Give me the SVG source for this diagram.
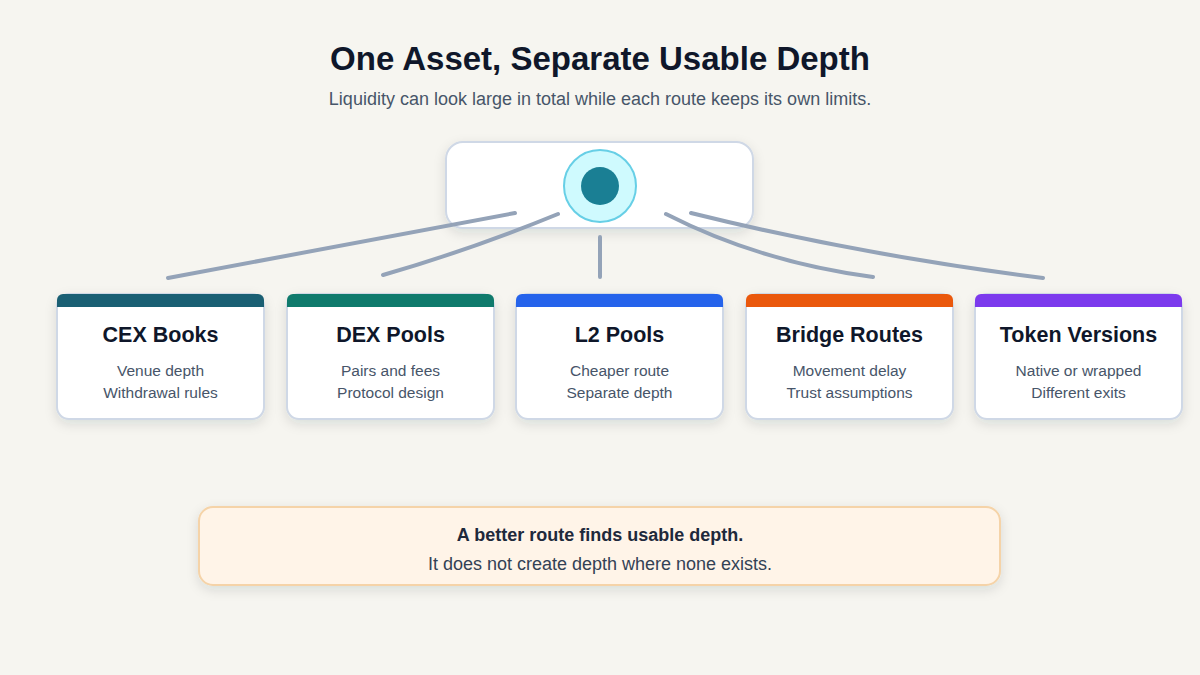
<svg xmlns="http://www.w3.org/2000/svg" width="1200" height="675" viewBox="0 0 1200 675">
<defs>
<filter id="sh" x="-20%" y="-20%" width="140%" height="150%"><feDropShadow dx="0" dy="4" stdDeviation="6" flood-color="#1e293b" flood-opacity="0.12"/></filter>
</defs>
<style>
.t{font-family:"Liberation Sans",Arial,sans-serif}
.card{fill:#fff;stroke:#cfd8e6;stroke-width:2}
.ct{font-size:21.5px;font-weight:bold;fill:#0f172a;text-anchor:middle}
.cs{font-size:15.5px;fill:#475569;text-anchor:middle}
.ln{fill:none;stroke:#94a3b8;stroke-width:4;stroke-linecap:round}
</style>
<rect width="1200" height="675" fill="#f6f5f0"/>
<text class="t" x="600" y="70" font-size="33" font-weight="bold" fill="#0f172a" text-anchor="middle">One Asset, Separate Usable Depth</text>
<text class="t" x="600" y="105" font-size="18" fill="#475569" text-anchor="middle">Liquidity can look large in total while each route keeps its own limits.</text>
<g id="hub">
<rect x="446" y="142" width="307" height="86" rx="17" class="card" filter="url(#sh)"/>
<circle cx="600" cy="186" r="36" fill="#cffafe" stroke="#67cfe6" stroke-width="2"/>
<circle cx="600" cy="186" r="19" fill="#1a7f94"/>
</g>
<g id="connectors">
<path class="ln" d="M515,213 Q340,245 168,278"/>
<path class="ln" d="M558,214 Q470,250 383,275"/>
<path class="ln" d="M600,237 L600,277"/>
<path class="ln" d="M666,214 Q760,262 873,277"/>
<path class="ln" d="M691,213 Q860,255 1043,278"/>
</g>
<g id="cex"><rect x="57" y="294" width="207" height="125" rx="12" class="card" filter="url(#sh)"/><path d="M63,294 H258 A6,6 0 0 1 264,300 V307 H57 V300 A6,6 0 0 1 63,294Z" fill="#1a5f73"/>
<text class="t ct" x="160.5" y="342">CEX Books</text><text class="t cs" x="160.5" y="376">Venue depth</text><text class="t cs" x="160.5" y="398">Withdrawal rules</text></g>
<g id="dex"><rect x="287" y="294" width="207" height="125" rx="12" class="card" filter="url(#sh)"/><path d="M293,294 H488 A6,6 0 0 1 494,300 V307 H287 V300 A6,6 0 0 1 293,294Z" fill="#0f7a6c"/>
<text class="t ct" x="390.5" y="342">DEX Pools</text><text class="t cs" x="390.5" y="376">Pairs and fees</text><text class="t cs" x="390.5" y="398">Protocol design</text></g>
<g id="l2"><rect x="516" y="294" width="207" height="125" rx="12" class="card" filter="url(#sh)"/><path d="M522,294 H717 A6,6 0 0 1 723,300 V307 H516 V300 A6,6 0 0 1 522,294Z" fill="#2563eb"/>
<text class="t ct" x="619.5" y="342">L2 Pools</text><text class="t cs" x="619.5" y="376">Cheaper route</text><text class="t cs" x="619.5" y="398">Separate depth</text></g>
<g id="bridge"><rect x="746" y="294" width="207" height="125" rx="12" class="card" filter="url(#sh)"/><path d="M752,294 H947 A6,6 0 0 1 953,300 V307 H746 V300 A6,6 0 0 1 752,294Z" fill="#ea580c"/>
<text class="t ct" x="849.5" y="342">Bridge Routes</text><text class="t cs" x="849.5" y="376">Movement delay</text><text class="t cs" x="849.5" y="398">Trust assumptions</text></g>
<g id="token"><rect x="975" y="294" width="207" height="125" rx="12" class="card" filter="url(#sh)"/><path d="M981,294 H1176 A6,6 0 0 1 1182,300 V307 H975 V300 A6,6 0 0 1 981,294Z" fill="#7c3aed"/>
<text class="t ct" x="1078.5" y="342">Token Versions</text><text class="t cs" x="1078.5" y="376">Native or wrapped</text><text class="t cs" x="1078.5" y="398">Different exits</text></g>
<g id="note">
<rect x="199" y="507" width="801" height="78" rx="14" fill="#fff4e8" stroke="#f5d3a8" stroke-width="2" filter="url(#sh)"/>
<text class="t" x="600" y="541" font-size="18" font-weight="bold" fill="#1e293b" text-anchor="middle">A better route finds usable depth.</text>
<text class="t" x="600" y="570" font-size="18" fill="#334155" text-anchor="middle">It does not create depth where none exists.</text>
</g>
</svg>
